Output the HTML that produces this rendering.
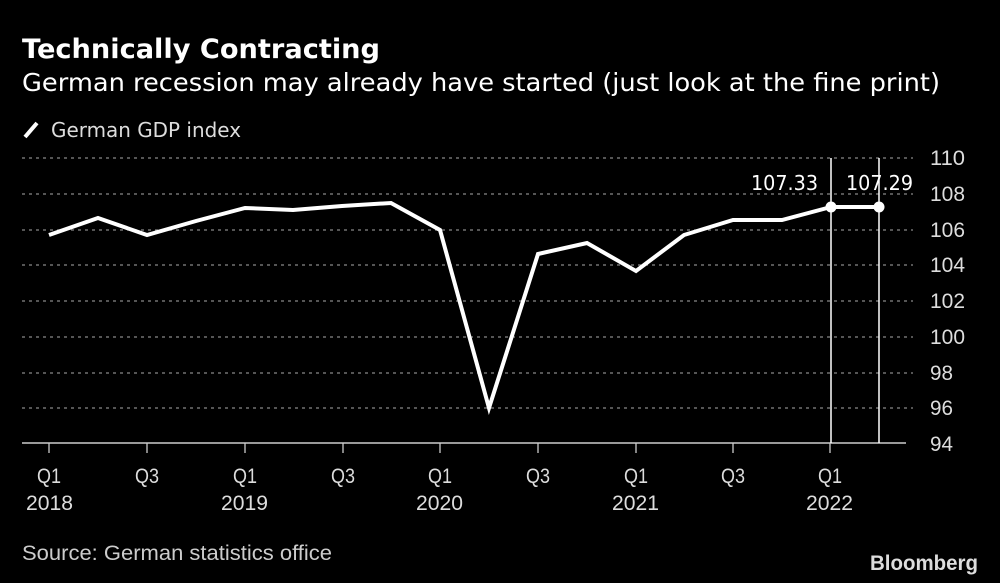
<!DOCTYPE html>
<html><head><meta charset="utf-8"><style>
body{margin:0;background:#000;width:1000px;height:583px;overflow:hidden;font-family:"DejaVu Sans","Liberation Sans",sans-serif;color:#fff}
</style></head><body>
<svg width="1000" height="583" xmlns="http://www.w3.org/2000/svg" style="position:absolute;left:0;top:0">
<text x="22" y="58" font-size="27" font-weight="bold" fill="#fff" font-family="DejaVu Sans, Liberation Sans, sans-serif" textLength="358" lengthAdjust="spacingAndGlyphs">Technically Contracting</text>
<text x="22" y="91" font-size="25" fill="#fff" font-family="DejaVu Sans, Liberation Sans, sans-serif" textLength="918" lengthAdjust="spacingAndGlyphs">German recession may already have started (just look at the fine print)</text>
<line x1="25" y1="137" x2="37" y2="123" stroke="#fff" stroke-width="4"/>
<text x="51" y="137" font-size="20" fill="#ddd" font-family="DejaVu Sans, Liberation Sans, sans-serif" textLength="190" lengthAdjust="spacingAndGlyphs">German GDP index</text>
<g stroke="#888" stroke-width="1.3" stroke-dasharray="3,4">
<line x1="22" y1="158" x2="913" y2="158"/><line x1="22" y1="194" x2="913" y2="194"/>
<line x1="22" y1="230" x2="913" y2="230"/><line x1="22" y1="265" x2="913" y2="265"/>
<line x1="22" y1="301" x2="913" y2="301"/><line x1="22" y1="337" x2="913" y2="337"/>
<line x1="22" y1="373" x2="913" y2="373"/><line x1="22" y1="408" x2="913" y2="408"/>
</g>
<line x1="22" y1="443" x2="906" y2="443" stroke="#ccc" stroke-width="1.5"/>
<g stroke="#ccc" stroke-width="1.3">
<line x1="49" y1="443" x2="49" y2="453"/><line x1="147" y1="443" x2="147" y2="453"/>
<line x1="245" y1="443" x2="245" y2="453"/><line x1="343" y1="443" x2="343" y2="453"/>
<line x1="440" y1="443" x2="440" y2="453"/><line x1="538" y1="443" x2="538" y2="453"/>
<line x1="636" y1="443" x2="636" y2="453"/><line x1="733" y1="443" x2="733" y2="453"/>
<line x1="830" y1="443" x2="830" y2="453"/>
</g>
<g stroke="#fff" stroke-width="1.5"><line x1="831" y1="158" x2="831" y2="443"/><line x1="879" y1="158" x2="879" y2="443"/></g>
<g font-family="Liberation Sans, sans-serif" font-size="21" fill="#ddd" lengthAdjust="spacingAndGlyphs">
<text x="37" y="483" textLength="24" lengthAdjust="spacingAndGlyphs">Q1</text><text x="135" y="483" textLength="24" lengthAdjust="spacingAndGlyphs">Q3</text><text x="233" y="483" textLength="24" lengthAdjust="spacingAndGlyphs">Q1</text><text x="331" y="483" textLength="24" lengthAdjust="spacingAndGlyphs">Q3</text><text x="428" y="483" textLength="24" lengthAdjust="spacingAndGlyphs">Q1</text><text x="526" y="483" textLength="24" lengthAdjust="spacingAndGlyphs">Q3</text><text x="624" y="483" textLength="24" lengthAdjust="spacingAndGlyphs">Q1</text><text x="721" y="483" textLength="24" lengthAdjust="spacingAndGlyphs">Q3</text><text x="818" y="483" textLength="24" lengthAdjust="spacingAndGlyphs">Q1</text>
<text x="26" y="510" textLength="47" lengthAdjust="spacingAndGlyphs">2018</text><text x="221" y="510" textLength="47" lengthAdjust="spacingAndGlyphs">2019</text><text x="416" y="510" textLength="47" lengthAdjust="spacingAndGlyphs">2020</text><text x="612" y="510" textLength="47" lengthAdjust="spacingAndGlyphs">2021</text><text x="806" y="510" textLength="47" lengthAdjust="spacingAndGlyphs">2022</text>
</g>
<g font-family="Liberation Sans, sans-serif" font-size="21" fill="#ddd">
<text x="930" y="165" textLength="35" lengthAdjust="spacingAndGlyphs">110</text><text x="930" y="201" textLength="35" lengthAdjust="spacingAndGlyphs">108</text><text x="930" y="237" textLength="35" lengthAdjust="spacingAndGlyphs">106</text><text x="930" y="272" textLength="35" lengthAdjust="spacingAndGlyphs">104</text><text x="930" y="308" textLength="35" lengthAdjust="spacingAndGlyphs">102</text><text x="930" y="344" textLength="35" lengthAdjust="spacingAndGlyphs">100</text><text x="930" y="380" textLength="23" lengthAdjust="spacingAndGlyphs">98</text><text x="930" y="415" textLength="23" lengthAdjust="spacingAndGlyphs">96</text><text x="930" y="451" textLength="23" lengthAdjust="spacingAndGlyphs">94</text>
</g>
<polyline fill="none" stroke="#fff" stroke-width="4" stroke-linejoin="miter" points="49,235 98,218 147,235 196,221 245,208 293,210 342,206 391,203 440,230 489,408 538,254 587,243 636,271 684,235 733,220 782,220 831,207 879,207"/>
<circle cx="831" cy="207" r="5.5" fill="#fff"/><circle cx="879" cy="207" r="5.5" fill="#fff"/>
<g font-family="DejaVu Sans, Liberation Sans, sans-serif" font-size="20" fill="#fff">
<text x="751" y="190" textLength="67" lengthAdjust="spacingAndGlyphs">107.33</text><text x="846" y="190" textLength="67" lengthAdjust="spacingAndGlyphs">107.29</text>
</g>
<text x="22" y="560" font-family="Liberation Sans, sans-serif" font-size="21" fill="#ccc" textLength="310" lengthAdjust="spacingAndGlyphs">Source: German statistics office</text>
<text x="870" y="570" font-family="Liberation Sans, sans-serif" font-size="21" font-weight="bold" fill="#ddd" textLength="108" lengthAdjust="spacingAndGlyphs">Bloomberg</text>
</svg>
</body></html>
